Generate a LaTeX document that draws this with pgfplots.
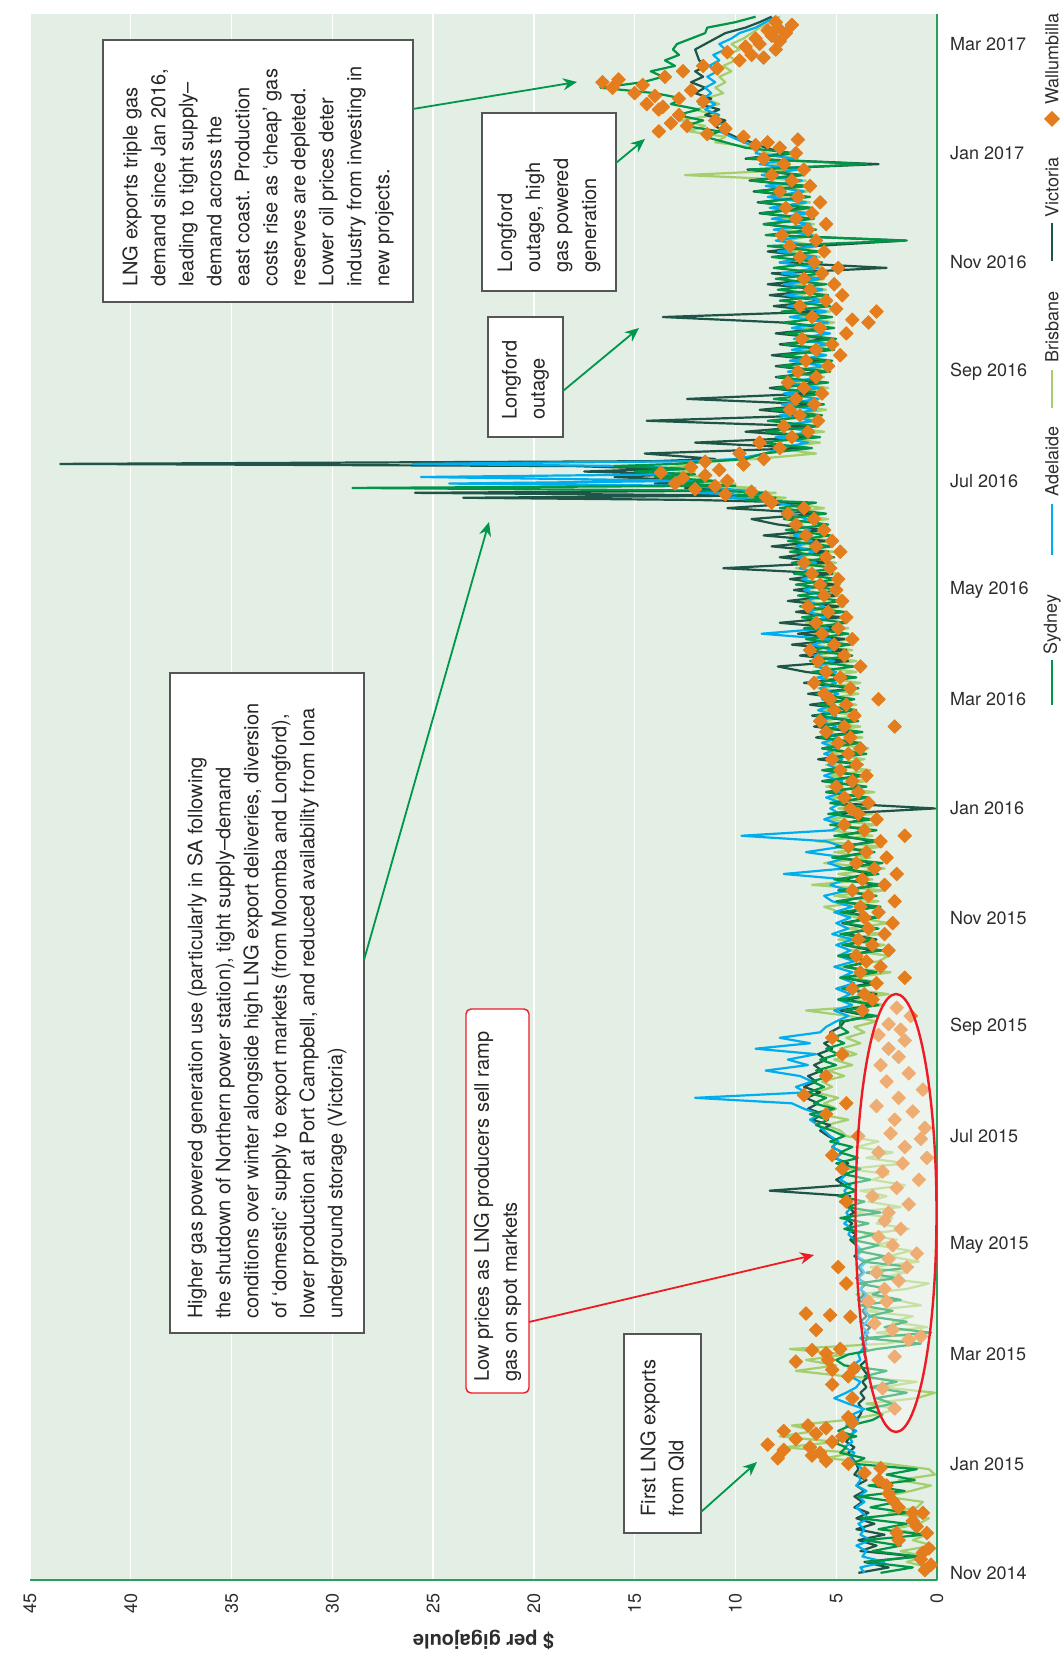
\documentclass[border=0pt]{standalone}
\usepackage{fontspec}
\setmainfont{TeX Gyre Heros}
\usepackage{pgfplots}
\usepackage{pgfplotstable}
\pgfplotsset{compat=1.18}
\usetikzlibrary{arrows.meta}
\definecolor{bgc}{RGB}{227,238,228}
\definecolor{axgreen}{RGB}{40,160,90}
\definecolor{syd}{RGB}{0,150,70}
\definecolor{adl}{RGB}{0,174,239}
\definecolor{bri}{RGB}{165,207,110}
\definecolor{vic}{RGB}{30,85,70}
\definecolor{wal}{RGB}{228,125,30}
\definecolor{arrg}{RGB}{0,150,75}
\definecolor{redc}{RGB}{237,28,36}
\definecolor{boxg}{RGB}{85,85,85}
\definecolor{tickc}{RGB}{45,45,45}

\pgfplotstableread{
m S A B V
0.0 2.8 3.6 0.8 3.9
0.1 1.2 3.8 0.4 2.4
0.2 3.5 2.6 1.5 3.6
0.3 0.9 3.7 0.6 1.0
0.4 3.2 3.5 1.8 3.8
0.5 1.8 4.0 0.2 3.0
0.6 3.6 3.3 1.2 3.9
0.7 0.6 3.8 0.5 2.6
0.8 2.9 3.6 2.2 4.0
0.9 1.5 3.9 0.9 3.1
1.0 3.8 3.4 0.4 4.0
1.1 1.4 3.7 2.4 3.4
1.2 3.3 4.0 1.0 4.1
1.3 2.0 3.6 0.7 3.7
1.4 3.9 3.9 2.6 4.1
1.5 1.6 3.5 1.3 3.6
1.6 3.4 4.0 0.3 4.0
1.7 1.1 3.8 1.9 3.5
1.8 2.5 3.9 0.1 4.1
1.9 1.0 3.7 0.4 3.9
2.0 4.2 4.0 2.5 4.0
2.1 3.6 4.3 5.5 4.2
2.2 4.8 4.1 4.2 4.4
2.3 4.5 4.6 7.6 4.1
2.4 5.2 4.2 5.0 4.5
2.5 4.0 4.4 7.8 4.3
2.6 4.9 4.0 6.0 4.1
2.7 4.3 4.5 7.2 4.4
2.8 3.2 3.9 4.5 4.0
2.9 2.7 4.2 3.0 3.8
3.0 3.5 3.6 2.0 3.7
3.1 2.2 4.4 3.5 3.9
3.2 3.0 5.1 1.0 3.6
3.3 1.5 4.5 0.1 3.8
3.4 3.3 4.0 2.7 3.5
3.5 2.0 3.8 1.0 3.7
3.6 3.6 4.3 4.5 3.4
3.7 2.5 3.9 7.0 3.6
3.8 4.6 4.2 5.0 3.8
3.9 5.0 3.8 6.5 3.5
4.0 4.4 3.9 4.5 3.6
4.1 3.0 3.7 7.3 3.5
4.2 0.8 3.5 2.5 3.7
4.3 3.6 3.8 1.0 3.4
4.4 0.3 3.4 3.0 3.6
4.5 2.6 3.7 0.5 3.3
4.6 1.5 3.5 2.2 3.8
4.7 3.4 3.3 1.2 3.5
4.8 2.2 3.6 3.6 3.7
4.9 3.8 3.4 0.8 3.4
5.0 1.8 3.7 2.0 3.9
5.1 3.2 3.5 4.0 3.6
5.2 2.4 3.8 1.5 3.8
5.3 3.9 3.6 0.4 3.5
5.4 2.0 3.9 2.8 4.0
5.5 3.5 3.6 1.6 3.7
5.6 1.2 3.8 3.3 3.9
5.7 3.7 3.5 0.9 3.6
5.8 2.6 4.0 2.4 4.1
5.9 4.0 3.7 1.3 3.8
6.0 2.9 4.0 3.0 4.0
6.1 4.2 4.1 2.0 4.3
6.2 3.1 4.4 3.6 4.0
6.3 4.6 4.2 1.4 4.5
6.4 3.4 4.6 3.0 4.2
6.5 4.8 4.3 2.2 4.6
6.6 2.8 4.5 4.2 4.1
6.7 4.5 4.2 1.8 4.4
6.8 3.6 4.7 3.4 4.8
6.9 4.9 4.4 2.5 4.3
7.0 4.0 4.6 3.8 8.3
7.1 4.7 4.3 1.6 4.6
7.2 3.3 4.8 3.2 5.0
7.3 4.6 4.5 2.4 4.5
7.4 3.8 4.9 4.4 4.8
7.5 5.0 4.6 1.5 4.4
7.6 3.9 5.0 3.5 5.1
7.7 4.8 4.7 2.2 4.7
7.8 4.2 5.2 4.0 5.2
7.9 5.3 4.9 2.9 4.9
8.0 4.6 5.3 4.5 5.4
8.1 5.2 5.6 4.8 5.8
8.2 6.0 5.9 5.5 5.3
8.3 5.4 6.3 4.4 6.2
8.4 6.3 5.8 5.8 5.6
8.5 5.1 6.6 5.0 6.4
8.6 6.1 7.2 5.6 5.9
8.7 5.5 12.0 4.9 6.5
8.8 6.4 6.5 6.0 5.8
8.9 5.6 7.0 5.2 6.6
9.0 6.2 6.2 5.7 6.0
9.1 5.3 6.8 4.6 6.4
9.2 6.0 8.5 5.4 5.7
9.3 5.0 6.4 4.2 6.1
9.4 5.8 7.4 5.1 5.5
9.5 4.9 6.0 4.0 5.9
9.6 5.5 9.0 4.8 5.2
9.7 4.6 6.3 3.8 5.6
9.8 5.2 7.8 4.5 5.0
9.9 4.4 5.8 3.6 5.3
10.0 4.8 5.5 4.1 4.8
10.1 4.8 5.0 3.0 4.6
10.2 3.0 4.4 4.4 3.4
10.3 4.6 5.1 6.5 4.8
10.4 2.9 4.2 2.6 3.2
10.5 4.9 4.9 4.3 4.5
10.6 3.1 4.3 2.4 3.0
10.7 4.7 5.0 4.6 4.7
10.8 2.8 4.1 2.7 3.3
10.9 4.8 4.8 4.2 4.6
11.0 3.0 4.2 2.3 3.1
11.1 4.6 5.1 4.8 4.5
11.2 3.2 4.1 2.9 3.4
11.3 4.9 4.9 2.4 4.4
11.4 2.7 4.3 4.3 3.2
11.5 4.7 5.0 2.6 4.6
11.6 3.1 4.2 4.9 3.0
11.7 4.8 5.2 2.8 4.5
11.8 2.9 4.4 4.4 3.3
11.9 4.6 5.0 2.4 4.7
12.0 3.0 4.3 4.0 3.2
12.1 4.8 5.1 4.8 4.4
12.2 2.8 4.2 5.6 3.1
12.3 5.0 5.2 2.9 4.8
12.4 3.0 5.6 5.1 3.3
12.5 4.9 4.4 2.6 4.6
12.6 2.6 5.3 6.2 3.0
12.7 5.1 4.5 3.2 4.7
12.8 2.9 7.6 4.9 3.4
12.9 4.8 4.6 2.6 4.5
13.0 2.7 5.4 5.6 3.1
13.1 5.2 4.5 3.3 4.9
13.2 3.1 6.5 5.1 3.5
13.3 5.0 4.7 2.7 4.6
13.4 2.8 5.5 6.0 3.2
13.5 5.1 9.7 3.2 4.8
13.6 3.0 5.2 5.3 3.4
13.7 5.3 4.7 3.0 5.0
13.8 3.2 5.6 5.5 3.6
13.9 5.4 4.8 3.2 5.1
14.0 3.4 5.3 4.9 0.1
14.1 5.3 4.7 3.4 5.2
14.2 3.4 5.5 5.2 3.5
14.3 5.5 4.6 3.1 5.5
14.4 3.5 5.3 5.5 3.6
14.5 5.6 4.7 3.5 5.7
14.6 3.6 5.6 5.3 3.8
14.7 5.7 4.8 3.3 5.6
14.8 3.7 5.4 5.5 3.7
14.9 5.5 4.7 3.6 5.9
15.0 3.5 5.6 5.4 3.9
15.1 5.7 4.9 3.4 5.7
15.2 3.8 5.7 5.6 4.0
15.3 5.8 4.9 3.7 6.0
15.4 3.7 5.6 5.7 4.1
15.5 5.9 5.0 3.8 6.1
15.6 3.9 5.8 5.8 4.2
15.7 6.0 5.0 3.9 6.2
15.8 4.0 5.9 5.9 4.1
15.9 5.9 5.1 4.0 6.3
16.0 4.1 5.7 5.7 4.2
16.1 6.0 4.9 3.9 6.4
16.2 3.9 5.8 5.9 4.1
16.3 6.1 5.0 3.8 6.6
16.4 4.0 5.9 6.0 4.3
16.5 6.2 5.0 4.0 6.5
16.6 4.1 6.0 6.1 7.9
16.7 6.3 5.1 4.0 4.4
16.8 4.2 6.1 6.2 6.8
16.9 6.4 5.2 4.2 4.5
17.0 4.3 6.2 6.3 7.2
17.1 6.5 5.3 4.3 4.6
17.2 4.4 8.7 6.4 6.9
17.3 6.6 5.4 4.4 4.7
17.4 4.5 6.3 6.5 7.8
17.5 6.7 5.5 4.5 4.8
17.6 4.6 6.4 6.6 7.0
17.7 6.8 5.6 4.6 4.9
17.8 4.7 6.5 6.7 7.4
17.9 6.9 5.7 4.7 5.0
18.0 4.8 6.6 6.8 7.1
18.1 7.0 5.8 4.8 5.1
18.2 4.9 6.7 6.9 7.3
18.3 7.1 5.9 4.9 5.2
18.4 5.0 6.8 7.0 10.6
18.5 7.2 6.0 5.0 5.3
18.6 5.1 6.9 7.1 7.8
18.7 7.3 6.1 5.1 5.4
18.8 5.2 7.0 7.2 8.2
18.9 7.4 6.2 5.2 5.5
19.0 5.3 7.1 7.3 8.6
19.1 7.5 6.3 5.3 5.6
19.2 5.4 7.2 7.4 7.9
19.3 7.6 6.4 5.4 9.2
19.4 5.5 7.4 7.5 5.8
19.5 7.8 6.6 5.6 10.4
19.6 6.0 8.0 7.6 6.5
19.65 9.5 9.0 8.0 12.0
19.69 8.0 10.5 7.5 23.5
19.73 10.0 8.5 9.0 9.0
19.78 8.5 12.0 8.0 25.9
19.82 11.0 9.5 10.5 10.0
19.87 29.0 11.0 9.0 12.5
19.91 10.0 12.5 11.0 11.0
19.95 13.0 24.2 10.0 14.0
20.0 11.0 12.0 12.0 12.0
20.07 14.0 25.6 11.5 16.0
20.12 12.0 13.0 13.5 13.0
20.17 15.0 14.5 12.0 17.5
20.22 12.5 12.5 14.0 13.5
20.27 16.0 15.0 12.5 18.0
20.31 13.0 26.0 13.0 43.5
20.36 11.0 12.0 11.0 14.0
20.4 9.5 10.0 9.0 11.0
20.5 8.6 8.5 6.0 14.5
20.6 6.2 7.8 8.2 6.4
20.7 8.8 6.4 5.8 12.0
20.8 5.8 8.0 8.0 6.0
20.9 8.5 6.2 5.6 9.5
21.0 5.9 7.9 7.8 6.2
21.1 8.4 6.1 5.9 14.4
21.2 5.7 7.8 7.6 6.0
21.3 8.2 6.0 5.5 8.8
21.4 5.6 7.7 7.5 5.9
21.5 8.1 5.9 5.8 12.4
21.6 5.5 7.6 7.4 6.1
21.7 8.0 5.8 5.4 8.3
21.8 5.4 7.5 7.2 5.8
21.9 7.9 5.7 5.6 8.0
22.0 5.3 7.4 7.0 5.7
22.1 7.8 5.6 5.3 8.0
22.2 5.2 7.3 6.9 5.6
22.3 7.7 5.5 5.5 8.2
22.4 5.1 7.2 6.8 5.5
22.5 7.6 5.4 5.2 7.8
22.6 5.0 7.1 6.7 5.4
22.7 7.5 5.3 5.4 8.0
22.8 5.1 7.2 6.6 5.5
22.9 7.6 5.4 5.1 7.7
23.0 5.2 7.3 6.8 13.6
23.1 7.7 5.5 5.3 5.6
23.2 5.3 7.4 6.9 8.1
23.3 7.8 5.6 5.4 5.5
23.4 5.4 7.5 7.0 8.3
23.5 7.9 5.7 5.5 5.7
23.6 5.5 7.6 7.1 8.4
23.7 8.0 5.8 5.6 5.8
23.8 5.6 7.7 7.2 8.2
23.9 8.1 5.9 5.7 2.5
24.0 5.7 7.8 7.3 7.8
24.1 8.2 6.0 5.8 6.0
24.2 5.8 7.9 7.4 8.4
24.3 8.4 6.1 5.9 6.1
24.4 1.5 8.0 7.5 1.6
24.5 8.5 6.2 6.0 8.3
24.6 6.0 8.1 7.6 6.2
24.7 8.6 6.3 6.1 8.6
24.8 6.1 8.2 7.7 6.3
24.9 8.7 6.4 6.2 8.8
25.0 6.2 8.3 7.8 6.4
25.1 8.8 6.5 6.3 8.9
25.2 6.3 8.4 7.9 6.5
25.3 9.0 6.6 6.4 9.1
25.4 6.4 8.5 8.0 6.6
25.5 9.2 6.7 6.5 9.3
25.6 6.6 8.7 12.5 6.8
25.7 9.3 6.9 6.7 9.4
25.8 3.5 8.8 8.2 2.9
25.9 9.4 7.1 6.9 9.5
26.0 7.0 9.0 8.4 7.5
26.1 9.5 8.8 9.0 8.5
26.2 10.5 9.6 11.0 9.2
26.3 11.5 10.2 10.5 10.0
26.4 10.8 10.8 12.3 10.6
26.5 12.5 10.4 11.5 11.0
26.6 11.6 11.2 12.8 10.5
26.7 12.9 10.8 11.0 11.5
26.8 11.8 11.5 12.0 10.8
26.9 13.2 11.0 10.8 11.8
27.0 12.6 11.6 11.5 11.2
27.1 14.0 11.2 10.6 12.0
27.2 16.7 11.5 11.0 11.5
27.3 14.6 11.0 10.5 12.2
27.4 13.6 11.4 10.8 11.6
27.5 14.2 10.9 10.2 12.0
27.6 13.0 11.3 10.6 11.4
27.7 13.5 10.8 10.0 11.8
27.8 12.8 11.1 10.4 11.9
27.9 13.1 10.5 9.8 12.0
28.0 12.9 10.8 10.2 11.5
28.1 12.2 10.2 9.6 11.0
28.2 11.5 9.8 9.2 10.5
28.3 11.4 9.0 8.8 9.5
28.4 10.0 8.5 8.2 8.8
28.5 9.0 8.0 7.8 8.2
}\dataL

\pgfplotstableread{
m p
0.05 0.6
0.15 0.3
0.25 0.8
0.37 0.7
0.45 0.4
0.6 1.9
0.73 2.0
0.73 0.5
0.85 1.0
0.95 1.2
1.1 0.7
1.1 1.2
1.2 1.9
1.33 2.2
1.45 2.4
1.6 2.5
1.7 2.9
1.83 3.6
1.92 2.8
2.0 4.4
2.05 5.5
2.1 7.9
2.15 6.2
2.2 5.8
2.25 7.6
2.3 6.3
2.35 8.4
2.4 5.2
2.45 7.0
2.5 4.7
2.55 6.0
2.6 7.6
2.65 5.5
2.7 6.4
2.75 4.2
2.85 4.4
3.01 2.1
3.2 4.2
3.38 2.7
3.45 5.2
3.6 4.4
3.72 5.2
3.75 4.1
3.87 7.0
3.9 5.4
3.96 2.1
4.02 5.5
4.08 6.2
4.1 4.8
4.27 1.4
4.33 0.8
4.45 2.2
4.45 6.0
4.57 3.1
4.69 4.3
4.72 5.3
4.75 6.5
4.97 3.4
4.97 2.5
5.2 2.6
5.3 4.5
5.35 1.9
5.5 3.0
5.6 1.5
5.6 4.9
5.75 2.4
5.85 1.0
6.0 2.2
6.15 2.9
6.3 1.8
6.45 2.6
6.6 2.4
6.75 1.4
6.8 4.5
6.9 3.2
7.05 2.0
7.2 0.9
7.35 2.7
7.4 4.7
7.5 1.7
7.6 0.5
7.65 5.2
7.7 2.9
7.8 1.6
7.95 0.8
8.0 3.9
8.05 2.3
8.15 0.6
8.3 2.1
8.4 5.5
8.45 1.2
8.55 3.0
8.6 4.5
8.7 1.9
8.75 6.6
8.85 0.7
9.0 2.5
9.1 5.5
9.15 1.4
9.3 2.8
9.45 1.9
9.5 4.7
9.6 2.4
9.75 1.6
9.8 5.2
9.85 2.9
9.95 1.8
10.05 2.4
10.2 1.3
10.3 3.7
10.35 2.0
10.5 3.2
10.6 3.6
10.7 4.2
10.8 3.0
10.9 1.6
11.0 3.8
11.1 2.8
11.2 3.5
11.3 4.0
11.4 2.4
11.5 3.2
11.6 3.9
11.7 2.6
11.8 3.4
11.9 2.2
12.0 3.6
12.1 2.9
12.2 3.8
12.3 2.1
12.4 3.4
12.5 4.2
12.6 2.6
12.7 3.7
12.8 2.0
12.9 3.1
13.0 4.0
13.1 2.5
13.2 3.5
13.3 4.4
13.4 2.8
13.5 1.6
13.6 3.6
13.7 4.6
13.8 3.0
13.9 3.9
14.0 4.3
14.1 3.4
14.2 4.6
14.3 3.9
14.4 5.0
14.5 4.2
14.6 3.5
14.7 4.8
14.8 4.0
14.9 5.2
15.0 4.4
15.1 3.8
15.2 4.9
15.3 4.3
15.4 5.5
15.5 2.1
15.5 4.6
15.6 5.8
15.7 4.1
15.8 5.1
15.9 4.5
16.0 2.9
16.0 5.3
16.1 5.6
16.2 4.3
16.3 6.1
16.4 4.8
16.5 5.5
16.6 3.8
16.7 5.9
16.8 4.6
16.9 6.3
17.0 5.1
17.1 4.2
17.2 5.7
17.3 4.9
17.4 6.0
17.5 4.5
17.6 5.4
17.7 6.4
17.8 4.7
17.9 5.6
18.0 5.0
18.1 5.8
18.2 4.9
18.3 6.2
18.4 5.3
18.5 6.6
18.6 5.5
18.7 4.8
18.8 6.0
18.9 5.2
19.0 6.5
19.1 5.6
19.2 7.0
19.3 6.1
19.4 7.4
19.5 6.6
19.6 8.2
19.7 8.5
19.75 10.5
19.8 9.2
19.85 12.0
19.9 11.0
19.95 13.0
20.0 10.4
20.05 12.6
20.1 11.5
20.15 13.7
20.2 10.8
20.25 12.2
20.3 9.6
20.35 11.5
20.4 8.6
20.5 9.8
20.6 7.8
20.7 8.8
20.8 7.2
20.9 6.4
21.0 7.6
21.1 5.9
21.2 6.8
21.3 7.3
21.4 6.1
21.5 7.0
21.6 5.7
21.7 6.6
21.8 7.4
21.9 6.0
22.0 6.9
22.1 5.4
22.2 6.5
22.3 4.8
22.4 6.0
22.5 5.2
22.6 6.7
22.7 4.5
22.8 5.8
22.9 3.4
22.95 4.2
23.0 6.2
23.1 3.0
23.15 5.0
23.2 6.8
23.3 5.5
23.4 4.7
23.5 6.3
23.6 5.1
23.7 6.6
23.8 5.7
23.9 4.9
24.0 6.1
24.1 6.8
24.2 5.6
24.3 7.3
24.4 6.0
24.5 7.7
24.6 6.4
24.7 5.5
24.8 7.0
24.9 6.2
25.0 7.5
25.1 5.8
25.2 6.9
25.3 7.8
25.4 6.3
25.5 7.2
25.6 8.2
25.7 6.6
25.8 7.6
25.9 8.6
26.0 7.0
26.1 7.8
26.15 9.0
26.2 8.4
26.25 6.9
26.3 9.6
26.35 11.4
26.4 13.8
26.45 10.5
26.5 12.4
26.55 13.2
26.6 11.0
26.7 12.8
26.8 13.8
26.85 13.6
26.9 14.4
26.95 11.6
27.0 12.8
27.05 14.0
27.1 15.0
27.15 12.2
27.2 16.1
27.25 14.6
27.3 16.6
27.35 15.8
27.4 13.5
27.5 12.6
27.55 10.9
27.6 11.6
27.7 9.8
27.75 8.6
27.8 9.2
27.85 10.4
27.9 8.0
27.95 9.5
28.0 8.8
28.05 7.8
28.1 9.0
28.15 8.2
28.2 7.5
28.25 8.4
28.3 7.9
28.35 7.2
28.4 8.0
}\dataW

\begin{document}
\begin{tikzpicture}
\path[use as bounding box] (0,0) rectangle (531.5pt,827pt);
\begin{axis}[
  at={(15pt,37pt)}, anchor=south west,
  scale only axis, width=453.5pt, height=783pt,
  x dir=reverse, xmin=0, xmax=45, ymin=-0.13, ymax=28.55,
  xtick={0,5,...,45},
  ytick={0,2,...,28},
  yticklabels={Nov 2014,Jan 2015,Mar 2015,May 2015,Jul 2015,Sep 2015,Nov 2015,Jan 2016,Mar 2016,May 2016,Jul 2016,Sep 2016,Nov 2016,Jan 2017,Mar 2017},
  yticklabel pos=right,
  xmajorgrids, grid style={white, line width=0.7pt},
  axis background/.style={fill=bgc},
  axis line style={draw=none},
  major tick length=0pt,
  tick label style={font=\fontsize{9}{10}\selectfont, text=tickc},
  xticklabel style={rotate=90, anchor=east},
  yticklabel style={anchor=west},
  xticklabel shift=3pt, yticklabel shift=3pt,
  /pgf/number format/assume math mode=true,
  clip=false,
  line join=round,
]
\addplot[bri, line width=1.1pt, no markers] table[x=B, y=m] {\dataL};
\addplot[vic, line width=1.1pt, no markers] table[x=V, y=m] {\dataL};
\addplot[adl, line width=1.1pt, no markers] table[x=A, y=m] {\dataL};
\addplot[syd, line width=1.1pt, no markers] table[x=S, y=m] {\dataL};
\addplot[only marks, mark=square*, mark size=2.4pt, mark options={rotate=45, fill=wal, draw=wal}] table[x=p, y=m] {\dataW};
\draw[axgreen, line width=1pt] (axis cs:45,-0.13) -- (axis cs:0,-0.13) -- (axis cs:0,28.55);
\end{axis}

% ellipse
\draw[redc, line width=1.2pt, fill=white, fill opacity=0.38] (448pt,220.5pt) ellipse [x radius=20.25pt, y radius=109.5pt];

% x label
\node[rotate=180, font=\bfseries\fontsize{10}{12}\selectfont, text=tickc] at (241.75pt,7pt) {\$ per gigajoule};

% boxes
\tikzset{annot/.style={rotate=90, anchor=west, align=left, inner sep=0pt, font=\fontsize{10}{14}\selectfont, text=black!85}}
\draw[boxg, fill=white, line width=0.6pt] (51.5pt,676pt) rectangle (206.5pt,807pt);
\node[annot] at (129pt,683.5pt) {LNG exports triple gas\\demand since Jan 2016,\\leading to tight supply--\\demand across the\\east coast. Production\\costs rise as `cheap' gas\\reserves are depleted.\\Lower oil prices deter\\industry from investing in\\new projects.};

\draw[boxg, fill=white, line width=0.6pt] (85pt,160.5pt) rectangle (182pt,490.5pt);
\node[annot] at (133.5pt,167.5pt) {Higher gas powered generation use (particularly in SA following\\the shutdown of Northern power station), tight supply--demand\\conditions over winter alongside high LNG export deliveries, diversion\\of `domestic' supply to export markets (from Moomba and Longford),\\lower production at Port Campbell, and reduced availability from Iona\\underground storage (Victoria)};

\draw[redc, fill=white, line width=0.7pt, rounded corners=2.5pt] (233pt,130.5pt) rectangle (264.5pt,322.5pt);
\node[annot] at (248.75pt,136pt) {Low prices as LNG producers sell ramp\\gas on spot markets};

\draw[boxg, fill=white, line width=0.6pt] (241pt,681.5pt) rectangle (308pt,770.5pt);
\node[annot] at (274.5pt,690.5pt) {Longford\\outage, high\\gas powered\\generation};

\draw[boxg, fill=white, line width=0.6pt] (244pt,608.5pt) rectangle (281.5pt,668.5pt);
\node[annot] at (262.75pt,617pt) {Longford\\outage};

\draw[boxg, fill=white, line width=0.6pt] (312pt,60.5pt) rectangle (350.5pt,160pt);
\node[annot] at (331.25pt,68.5pt) {First LNG exports\\from Qld};

% arrows
\tikzset{garr/.style={arrg, line width=0.9pt, -{Stealth[length=7pt, width=6pt]}}}
\draw[garr] (206.5pt,772.5pt) -- (288.5pt,786pt);
\draw[garr] (308pt,745.5pt) -- (322.5pt,757.5pt);
\draw[garr] (281.5pt,631.5pt) -- (319.5pt,663pt);
\draw[garr] (182pt,347pt) -- (244.5pt,566pt);
\draw[garr] (350.5pt,71pt) -- (378.5pt,96pt);
\draw[redc, line width=0.9pt, -{Stealth[length=7pt, width=6pt]}] (264.5pt,166pt) -- (407pt,199.5pt);

% legend
\tikzset{leg/.style={rotate=90, anchor=west, inner sep=0pt, font=\fontsize{9}{10}\selectfont, text=tickc}}
\draw[syd, line width=1.3pt] (526pt,474.5pt) -- (526pt,497pt);
\node[leg] at (526pt,499.5pt) {Sydney};
\draw[adl, line width=1.3pt] (526pt,549.5pt) -- (526pt,575pt);
\node[leg] at (526pt,578.5pt) {Adelaide};
\draw[bri, line width=1.3pt] (526pt,623pt) -- (526pt,642pt);
\node[leg] at (526pt,645.5pt) {Brisbane};
\draw[vic, line width=1.3pt] (526pt,696.5pt) -- (526pt,715.5pt);
\node[leg] at (526pt,718pt) {Victoria};
\fill[wal] (526pt,763.5pt) -- (530pt,767.5pt) -- (526pt,771.5pt) -- (522pt,767.5pt) -- cycle;
\node[leg] at (526pt,774.5pt) {Wallumbilla};
\end{tikzpicture}
\end{document}
